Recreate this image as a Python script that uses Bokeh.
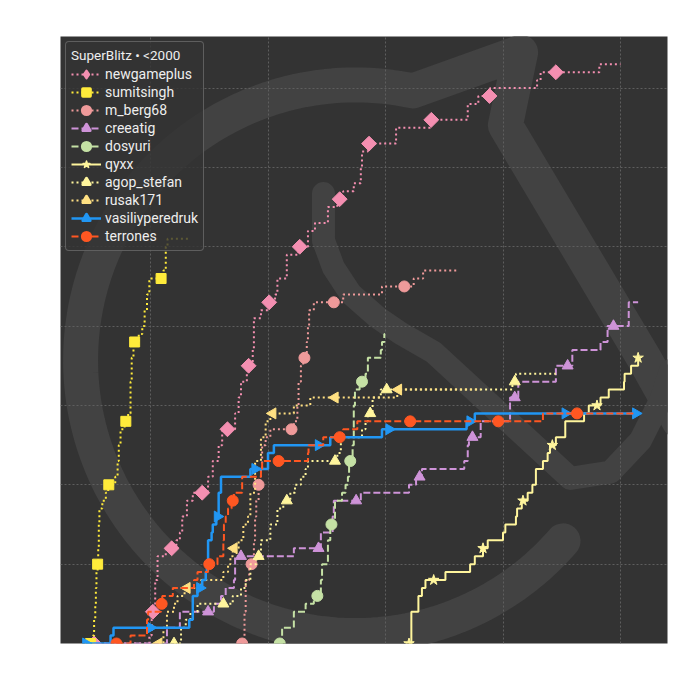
import numpy as np
from bokeh.plotting import figure
from bokeh.models import FixedTicker, Legend, LegendItem, Range1d
from bokeh.embed import file_html
from bokeh.resources import INLINE

TITLE = "SuperBlitz • <2000"
X_TICKS = [10, 20, 30, 40, 50]
Y_TICKS = [0, 10, 20, 30, 40, 50, 60, 70]

# ---- series data (minutes, points) ----
ngp_x = [5.2, 9.9, 10.1, 10.2, 10.4, 10.6, 11.3, 12.2, 12.5, 12.7, 13.1, 13.6, 14.9, 15.3, 15.8, 16.1,
         17.2, 17.5, 17.7, 18.2, 18.7, 18.8, 19.4, 20.0, 20.6, 20.8, 21.6, 22.6, 23.4, 24.0, 25.1, 25.9,
         26.4, 27.3, 27.9, 28.0, 28.5, 30.9, 33.8, 37.0, 37.9, 38.9, 42.9, 43.2, 48.2, 50.0]
ngp_y = [0, 1, 3, 4, 8, 11, 12, 13, 14, 16, 18, 19, 21, 23, 25, 27,
         29, 31, 33, 35, 37, 41, 42, 43, 44, 46, 49, 50, 52, 53, 55, 56,
         57, 58, 60, 62, 63, 65, 66, 68, 69, 70, 71, 72, 73, 73]
ngp_mx = [5.2, 10.2, 11.8, 14.4, 16.55, 18.35, 20.1, 22.7, 26.1, 28.6, 33.9, 38.85, 44.5]
ngp_my = [0, 4, 12, 19, 27, 35, 43, 50, 56, 63, 66, 69, 72]

ss_x = [4.9, 5.1, 5.2, 5.3, 5.35, 5.4, 5.5, 5.55, 5.6, 5.65, 5.9, 6.2, 6.4, 7.0, 7.2, 7.3, 7.45, 7.8,
        8.1, 8.3, 8.4, 8.55, 9.0, 9.3, 9.5, 9.7, 9.9, 11.1, 11.3, 11.45, 13.2]
ss_y = [0, 1, 3, 5, 7, 9, 10, 12, 15, 17, 18, 19, 20, 21, 23, 25, 27, 28,
        29, 33, 36, 38, 39, 40, 42, 44, 46, 47, 50, 51, 51]
ss_mx = [4.9, 5.5, 6.45, 7.9, 8.65, 10.9]
ss_my = [0, 10, 20, 28, 38, 46]

mb_x = [17.8, 18.0, 18.1, 18.4, 18.8, 18.9, 19.0, 19.2, 19.4, 19.5, 19.8, 20.2, 22.2, 22.5, 22.6,
        22.8, 23.0, 23.3, 23.4, 23.5, 23.9, 26.4, 29.7, 32.4, 33.2, 36.1]
mb_y = [0, 4, 8, 10, 13, 16, 18, 20, 22, 25, 26, 27, 28, 30, 33,
        35, 36, 38, 40, 42, 43, 44, 45, 46, 47, 47]
mb_mx = [17.8, 18.6, 19.2, 22.0, 23.1, 25.6, 31.6]
mb_my = [0, 10, 20, 27, 36, 43, 45]

cr_x = [5.2, 11.4, 12.5, 15.4, 16.0, 16.4, 17.1, 17.2, 22.2, 24.5, 25.5, 25.6, 27.9, 32.0, 32.6,
        33.1, 36.7, 37.0, 37.1, 38.1, 40.6, 41.3, 44.5, 45.9, 48.3, 48.9, 50.7, 51.5]
cr_y = [0, 2, 4, 5, 6, 7, 8, 11, 12, 14, 16, 18, 19, 20, 21,
        22, 23, 25, 26, 28, 31, 33, 35, 37, 38, 40, 43, 43]
cr_mx = [14.9, 17.7, 24.3, 27.5, 32.9, 37.4, 41.0, 45.5, 49.4]
cr_my = [4, 11, 12, 18, 21, 26, 31, 35, 40]

ds_x = [21.0, 21.2, 22.2, 23.2, 23.9, 24.5, 24.6, 25.1, 25.3, 25.7, 26.3, 26.6, 26.8, 26.9, 27.2,
        27.3, 27.4, 27.8, 28.3, 28.5, 29.6, 29.7, 29.9, 29.95]
ds_y = [0, 2, 4, 5, 6, 8, 10, 13, 15, 18, 19, 20, 21, 23, 25,
        30, 32, 33, 34, 36, 37, 38, 39, 39]
ds_mx = [21.0, 24.2, 25.4, 27.0, 28.0]
ds_my = [0, 6, 15, 23, 33]

qx_x = [32.0, 32.2, 32.8, 33.1, 33.4, 35.1, 37.2, 37.6, 38.3, 38.7, 40.0, 40.2, 41.1, 41.2, 41.6,
        42.1, 42.5, 42.8, 43.4, 43.8, 44.0, 44.5, 45.3, 46.9, 47.3, 48.3, 49.0, 50.3, 50.35, 50.9, 51.5]
qx_y = [0, 4, 6, 7, 8, 9, 10, 11, 12, 13, 14, 15, 16, 17, 18,
        19, 20, 22, 23, 24, 25, 26, 28, 29, 30, 31, 32, 33, 34, 35, 36]
qx_mx = [32.0, 34.1, 38.3, 41.7, 44.2, 48.0, 51.5]
qx_my = [0, 8, 12, 18, 25, 30, 36]

ag_x = [12.0, 12.6, 13.0, 13.4, 14.0, 17.0, 17.7, 18.1, 18.5, 19.0, 19.4, 20.2, 20.8, 21.3, 21.9,
        22.3, 22.8, 23.2, 23.4, 25.9, 26.2, 28.0, 28.3, 28.5, 28.9, 29.6, 40.8, 41.1, 44.5]
ag_y = [0, 2, 3, 4, 5, 6, 7, 8, 10, 11, 13, 15, 17, 18, 19,
        20, 21, 22, 23, 24, 26, 27, 28, 29, 31, 32, 33, 34, 34]
ag_mx = [12.0, 16.2, 19.2, 21.6, 25.7, 28.7, 30.1, 41.0]
ag_my = [0, 5, 11, 18, 23, 29, 32, 33]

rk_x = [10.7, 11.1, 11.4, 12.0, 12.3, 12.9, 14.3, 16.2, 16.6, 16.8, 17.0, 17.5, 17.9, 18.3, 18.5,
        18.9, 19.4, 19.8, 20.2, 22.2, 23.6, 31.0, 38.1]
rk_y = [0, 2, 4, 5, 6, 7, 8, 9, 10, 11, 12, 13, 15, 16, 19,
        23, 26, 28, 29, 30, 31, 32, 32]
rk_mx = [10.7, 13.1, 17.1, 20.4, 25.7, 31.1]
rk_my = [0, 7, 12, 29, 31, 32]

vp_x = [4.5, 6.6, 6.85, 13.3, 13.6, 14.0, 14.4, 14.7, 14.8, 14.9, 15.2, 15.3, 15.6, 15.8, 16.0,
        18.5, 20.0, 20.5, 25.3, 29.7, 36.9, 37.6, 51.5]
vp_y = [0, 1, 2, 3, 6, 7, 8, 9, 10, 13, 14, 15, 16, 19, 21,
        22, 24, 25, 26, 27, 28, 29, 29]
vp_mx = [4.5, 10.0, 14.2, 15.7, 18.9, 24.3, 30.3, 37.2, 45.3, 51.3]
vp_my = [0, 2, 7, 16, 22, 25, 27, 28, 29, 29]

tr_x = [7.1, 8.3, 9.7, 9.8, 10.9, 11.0, 11.9, 13.7, 14.0, 14.9, 15.7, 16.2, 16.25, 16.4, 16.6,
        16.9, 17.1, 17.8, 19.4, 19.5, 23.4, 23.45, 24.7, 26.4, 27.6, 43.4, 51.1]
tr_y = [0, 1, 3, 4, 5, 6, 7, 8, 9, 10, 11, 13, 15, 16, 17,
        18, 19, 21, 22, 23, 24, 25, 26, 27, 28, 29, 29]
tr_mx = [7.1, 10.95, 15.0, 17.0, 20.9, 26.1, 32.1, 39.6, 46.3]
tr_my = [0, 5, 10, 18, 23, 26, 28, 28, 29]

names = ["newgameplus", "sumitsingh", "m_berg68", "creeatig", "dosyuri",
         "qyxx", "agop_stefan", "rusak171", "vasiliyperedruk", "terrones"]
series = [(ngp_x, ngp_y, ngp_mx, ngp_my), (ss_x, ss_y, ss_mx, ss_my), (mb_x, mb_y, mb_mx, mb_my),
          (cr_x, cr_y, cr_mx, cr_my), (ds_x, ds_y, ds_mx, ds_my), (qx_x, qx_y, qx_mx, qx_my),
          (ag_x, ag_y, ag_mx, ag_my), (rk_x, rk_y, rk_mx, rk_my), (vp_x, vp_y, vp_mx, vp_my),
          (tr_x, tr_y, tr_mx, tr_my)]

# ---- styles ----
colors = ["#f48fb1", "#ffeb3b", "#ef9a9a", "#ce93d8", "#c5e1a5",
          "#fff59d", "#fff59d", "#ffe082", "#2196f3", "#ff5722"]
dashes = ["2 3", "2 3", "2 3", "7 3", "7 3", "solid", "2 3", "2 3", "solid", "7 3"]
widths = [2, 2, 2, 2, 2, 2, 2, 2, 2.5, 2]
markers = ["square", "square", "circle", "triangle", "circle", "star", "triangle", "triangle", "triangle", "circle"]
angles = [np.pi / 4, 0, 0, 0, 0, 0, 0, np.pi / 2, -np.pi / 2, 0]
sizes = [10.5, 10, 11, 11, 11, 11, 11, 11, 11, 11]
# legend glyph shapes (legend cannot rotate markers)
leg_markers = ["diamond", "square", "circle", "triangle", "circle", "star", "triangle", "triangle", "triangle", "circle"]
leg_stroke = [2.5, 3.5, 4, 3, 4, 1.5, 3, 3, 3, 4]

p = figure(width=700, height=700, output_backend="svg", toolbar_location=None,
           x_range=Range1d(2.34, 54.0), y_range=Range1d(0, 76.5),
           min_border_left=60, min_border_right=33, min_border_top=36, min_border_bottom=57)
p.background_fill_color = "#333333"
p.border_fill_color = "white"
p.outline_line_color = None
p.xaxis.visible = False
p.yaxis.visible = False
p.xaxis.ticker = FixedTicker(ticks=X_TICKS)
p.yaxis.ticker = FixedTicker(ticks=Y_TICKS)
p.xgrid.ticker = FixedTicker(ticks=X_TICKS)
p.ygrid.ticker = FixedTicker(ticks=Y_TICKS)
p.grid.grid_line_color = "#5e5e5e"
p.grid.grid_line_dash = "2 2"
p.grid.grid_line_width = 1

# ---- background watermark (decoration) ----
wm_cx, wm_cy, wm_rx, wm_ry = 27.45, 35.7, 23.4, 34.7
th = np.radians(np.linspace(41, 282, 160))
wm1_x = list(wm_cx + wm_rx * np.cos(th)) + [41.5, 40.2, 52.1, 55.0]
wm1_y = list(wm_cy - wm_ry * np.sin(th)) + [74.5, 65.3, 35.7, 28.0]
wm2_x = [24.72, 24.72, 25.57, 27.02, 29.32, 31.28, 34.09, 45.74, 49.15, 51.7, 53.4, 54.26]
wm2_y = [56.7, 50.8, 47.4, 44.1, 41.1, 39.1, 36.7, 20.8, 21.6, 25.6, 30.6, 34.4]
WM_COLOR = "#424242"
p.line(wm1_x, wm1_y, line_width=35, line_color=WM_COLOR, line_cap="round", line_join="round", level="image")
p.line(wm2_x, wm2_y, line_width=23, line_color=WM_COLOR, line_cap="round", line_join="round", level="image")

NAN = float("nan")
items = []
for i, name in enumerate(names):
    x, y, mx, my = series[i]
    c = colors[i]
    r1 = p.step(x, y, mode="after", line_color=c, line_width=widths[i], line_dash=dashes[i])
    p.scatter(mx, my, marker=markers[i], size=sizes[i], angle=angles[i], fill_color=c, line_color=c)
    # legend-only glyph (a single missing value, so nothing is drawn in the plot)
    proxy = p.scatter([NAN], [NAN], marker=leg_markers[i], size=sizes[i], fill_color=c, line_color=c,
                      line_width=leg_stroke[i], line_join="round")
    items.append(LegendItem(label=name, renderers=[r1, proxy]))

legend = Legend(items=items, location="top_left", title=TITLE,
                title_text_font="Roboto", title_text_font_size="13.5px", title_text_color="#eeeeee",
                title_text_font_style="normal", title_standoff=2,
                label_text_font="Roboto", label_text_font_size="14px", label_text_color="#eeeeee",
                glyph_width=30, glyph_height=18, label_height=18, label_standoff=4,
                spacing=0, padding=5, margin=5,
                background_fill_color="#333333", background_fill_alpha=0.8,
                border_line_color="#8a8a8a", border_line_width=1.2)
if "border_radius" in legend.properties():
    legend.border_radius = 4
p.add_layout(legend)

open("out.html", "w").write(file_html(p, INLINE))
